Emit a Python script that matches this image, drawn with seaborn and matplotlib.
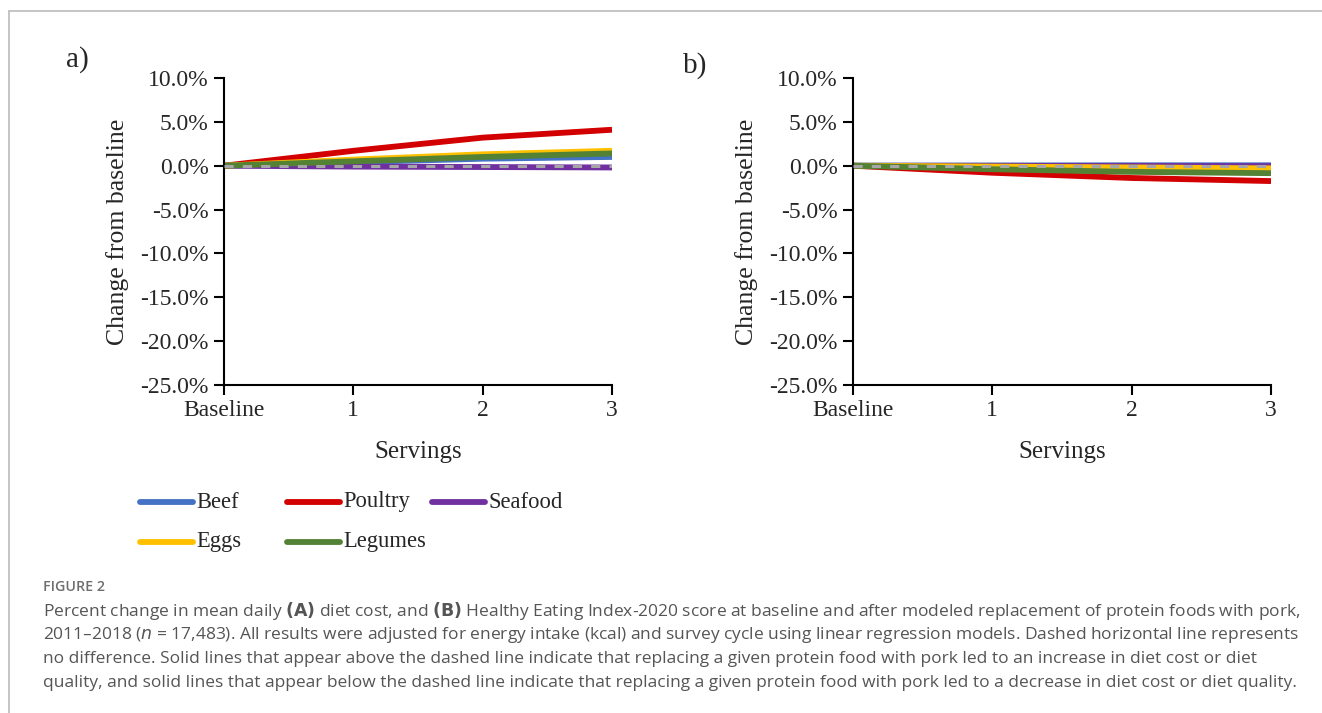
import numpy as np
import pandas as pd
import seaborn as sns
from matplotlib import pyplot as plt
from matplotlib.lines import Line2D
from matplotlib.ticker import PercentFormatter

sns.set_style('ticks')
plt.rcParams['font.family'] = ['Liberation Serif', 'DejaVu Serif']
plt.rcParams['axes.unicode_minus'] = False

# servings on the x axis
servings = ['Baseline', '1', '2', '3']
foods = ['Beef', 'Poultry', 'Seafood', 'Eggs', 'Legumes']

# a) diet cost, % change from baseline
cost_beef = [0.0, 0.4, 0.8, 1.0]
cost_poultry = [0.0, 1.7, 3.2, 4.1]
cost_seafood = [0.0, -0.1, -0.15, -0.2]
cost_eggs = [0.0, 0.7, 1.3, 1.7]
cost_legumes = [0.0, 0.5, 1.0, 1.4]

# b) HEI-2020 score, % change from baseline
hei_beef = [0.0, 0.03, 0.05, 0.05]
hei_poultry = [0.0, -0.8, -1.4, -1.75]
hei_seafood = [0.0, -0.02, -0.03, -0.05]
hei_eggs = [0.0, -0.1, -0.2, -0.3]
hei_legumes = [0.0, -0.4, -0.7, -0.85]

colors = {'Beef': '#4472C4', 'Poultry': '#D20000', 'Seafood': '#7030A0',
          'Eggs': '#FFC000', 'Legumes': '#548235'}


def make_df(vals):
    rows = []
    for food, v in zip(foods, vals):
        for i, y in enumerate(v):
            rows.append({'x': i, 'y': y, 'food': food})
    return pd.DataFrame(rows)


df_a = make_df([cost_beef, cost_poultry, cost_seafood, cost_eggs, cost_legumes])
df_b = make_df([hei_beef, hei_poultry, hei_seafood, hei_eggs, hei_legumes])

W, H = 1322, 713
fig = plt.figure(figsize=(W/100, H/100), dpi=100)
ax1 = fig.add_axes([224/W, 1-385/H, 388/W, 307/H])
ax2 = fig.add_axes([853/W, 1-385/H, 418/W, 307/H])

fs = 17
for ax, df, lab, lx, ly in [(ax1, df_a, 'a)', 66, 60), (ax2, df_b, 'b)', 683, 66)]:
    sns.lineplot(data=df, x='x', y='y', hue='food', hue_order=foods, palette=colors,
                 linewidth=4.2, ax=ax, legend=False, solid_capstyle='butt')
    ax.axhline(0, color='#A6A6A6', lw=2.2, ls=(0, (3, 3)), zorder=5)
    ax.set_xlim(0, 3)
    ax.set_ylim(-25, 10)
    ax.set_yticks(np.arange(-25, 11, 5))
    ax.yaxis.set_major_formatter(PercentFormatter(decimals=1))
    ax.set_xticks(range(len(servings)))
    ax.set_xticklabels(servings)
    ax.tick_params(labelsize=fs, length=7, width=1.5, color='black', pad=4)
    ax.set_xlabel('Servings', fontsize=fs + 1, labelpad=14)
    ax.set_ylabel('Change from baseline', fontsize=18.5, labelpad=8)
    for s in ['left', 'bottom']:
        ax.spines[s].set_linewidth(1.5)
        ax.spines[s].set_color('black')
    sns.despine(ax=ax)
    fig.text(lx/W, 1-ly/H, lab, fontsize=fs + 4, ha='left', va='center')

# legend laid out as a 3-column grid, row by row
col_x = [140, 287, 432]
row_y = [502, 542]
for k, f in enumerate(foods):
    x0 = col_x[k % 3]
    y0 = row_y[k // 3]
    fig.add_artist(Line2D([x0/W, (x0 + 53)/W], [1-y0/H, 1-y0/H], color=colors[f],
                          lw=4.2, solid_capstyle='round'))
    fig.text((x0 + 56)/W, 1-y0/H, f, fontsize=16.3, va='center', ha='left')

# caption
cap = ['Open Sans', 'DejaVu Sans']
fig.text(43/W, 1-587/H, 'FIGURE 2', fontsize=10.3, color='#6E6E6E', family=cap,
         weight='semibold', va='center')
lines = [
    r'Percent change in mean daily $\bf{(A)}$ diet cost, and $\bf{(B)}$ Healthy Eating Index-2020 score at baseline and after modeled replacement of protein foods with pork,',
    r'2011–2018 ($\it{n}$ = 17,483). All results were adjusted for energy intake (kcal) and survey cycle using linear regression models. Dashed horizontal line represents',
    'no difference. Solid lines that appear above the dashed line indicate that replacing a given protein food with pork led to an increase in diet cost or diet',
    'quality, and solid lines that appear below the dashed line indicate that replacing a given protein food with pork led to a decrease in diet cost or diet quality.',
]
for i, t in enumerate(lines):
    fig.text(43/W, 1-(611 + i*24)/H, t, fontsize=12.5, color='#555555',
             family=cap, va='center')

# frame around figure panel
fig.add_artist(Line2D([9/W, 9/W], [0, 1-11/H], color='#BBBBBB', lw=1.2))
fig.add_artist(Line2D([9/W, 1], [1-11/H, 1-11/H], color='#BBBBBB', lw=1.2))

fig.savefig('out.png', dpi=100)
